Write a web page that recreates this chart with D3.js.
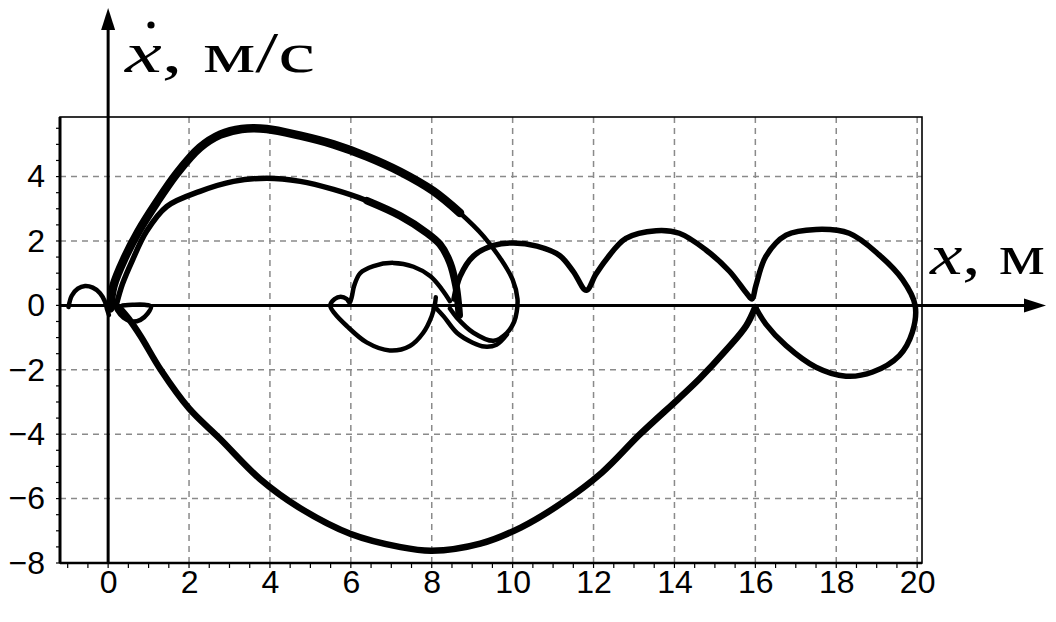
<!DOCTYPE html>
<html>
<head>
<meta charset="utf-8">
<script src="https://d3js.org/d3.v7.min.js"></script>
<style>
  body { margin: 0; background: #fff; }
  svg { display: block; }
</style>
</head>
<body>
<svg></svg>
<script>
const [svgWidth, svgHeight] = [1056, 622];

// tick values
const xTicks = [0, 2, 4, 6, 8, 10, 12, 14, 16, 18, 20];
const yTicks = [-8, -6, -4, -2, 0, 2, 4];

// phase trajectory pieces, [x, dx/dt]
const humpLeft = [[-0.98,-0.05],[-0.9,0.3],[-0.75,0.52],[-0.57,0.6],[-0.38,0.55],[-0.2,0.38],[-0.08,0.12],[-0.02,-0.15],[0.02,-0.3]];
const loopOrigin = [[0.12,0.2],[0.22,-0.15],[0.38,-0.38],[0.58,-0.5],[0.8,-0.45],[0.98,-0.25],[1.06,-0.03],[0.9,0.02],[0.6,0.02],[0.35,0.0]];
const arcOuter = [[0.05,-0.1],[0.13,0.6],[0.42,1.5],[0.75,2.3],[1.2,3.2],[1.7,4.1],[2.27,4.9],[2.77,5.3],[3.3,5.48],[3.92,5.48],[4.75,5.27],[5.57,5.0],[6.4,4.62],[7.22,4.15],[8.04,3.55],[8.7,2.87]];
const arcOuterEnd = [[8.04,3.55],[8.7,2.87],[9.28,2.15],[9.7,1.45],[10.0,0.8],[10.12,0.2],[10.1,-0.2],[10.04,-0.5],[9.86,-0.85],[9.53,-1.1],[9.03,-0.85],[8.62,-0.38],[8.45,-0.1]];
const arcMiddle = [[0.2,0],[0.35,0.65],[0.6,1.4],[0.95,2.3],[1.45,3.07],[2.27,3.54],[3.1,3.85],[3.92,3.95],[4.75,3.85],[5.57,3.6],[6.4,3.25],[7.22,2.78]];
const arcMiddleEnd = [[6.4,3.25],[7.22,2.78],[7.88,2.25],[8.2,1.9],[8.45,1.33],[8.6,0.6],[8.66,0],[8.68,-0.3]];
const loopMid = [[8.45,0.13],[8.25,0.5],[7.96,0.91],[7.55,1.2],[7.05,1.32],[6.56,1.22],[6.23,1.0],[6.08,0.6],[6.02,0.25],[5.97,0.08],[5.9,0.2],[5.75,0.27],[5.6,0.2],[5.49,0],[5.6,-0.25],[5.9,-0.64],[6.39,-1.15],[6.96,-1.4],[7.46,-1.26],[7.79,-0.85],[8.0,-0.33],[8.08,0.05],[8.1,0.25]];
const lowerOuter = [[8.08,-0.05],[8.3,-0.35],[8.62,-0.85],[9.0,-1.15],[9.3,-1.28],[9.6,-1.22],[9.86,-0.9]];
const rightChain = [[8.55,0.2],[8.7,0.9],[9.03,1.53],[9.53,1.86],[10.02,1.94],[10.6,1.84],[11.16,1.55],[11.5,1.05],[11.82,0.47],[12.05,0.95],[12.31,1.42],[12.8,2.08],[13.55,2.32],[14.12,2.24],[14.78,1.72],[15.36,1.06],[15.8,0.35],[15.92,0.2],[16.01,0.6],[16.26,1.52],[16.76,2.18],[17.5,2.36],[18.32,2.24],[19.06,1.57],[19.64,0.8],[19.95,0],[19.88,-0.84],[19.56,-1.56],[18.9,-2.07],[18.24,-2.2],[17.5,-1.92],[16.76,-1.25],[16.26,-0.58],[16.0,-0.05]];
const lowerBig = [[16.0,-0.05],[15.77,-0.64],[15.27,-1.4],[14.62,-2.28],[14.1,-2.9],[13.15,-4.0],[12.2,-5.2],[11.2,-6.15],[10.2,-6.9],[9.2,-7.4],[8.0,-7.62],[7.2,-7.5],[6.0,-7.1],[4.75,-6.3],[3.76,-5.4],[2.77,-4.15],[2.0,-3.2],[1.3,-2.0],[0.8,-0.95],[0.5,-0.4],[0.3,-0.1]];

const svg = d3.select('svg')
  .attr('width', svgWidth)
  .attr('height', svgHeight);

const [fLeft, fRight, fTop, fBottom] = [60, 922, 117, 563];
const x = d3.scaleLinear().domain([-1.19, 20.12]).range([fLeft, fRight]);
const y = d3.scaleLinear().domain([-8, 5.85]).range([fBottom, fTop]);

// grid
const grid = svg.append('g')
  .attr('stroke', '#8a8a8a')
  .attr('stroke-width', 1.5)
  .attr('stroke-dasharray', '6,5');
grid.selectAll('.vg')
  .data(xTicks.filter(d => d !== 0))
  .enter().append('line')
  .attr('x1', d => x(d)).attr('x2', d => x(d))
  .attr('y1', fTop).attr('y2', fBottom);
grid.selectAll('.hg')
  .data(yTicks.filter(d => d !== 0 && d !== -8))
  .enter().append('line')
  .attr('x1', fLeft).attr('x2', fRight)
  .attr('y1', d => y(d)).attr('y2', d => y(d));

// minor ticks
const minorX = d3.range(-1, 20.01, 0.5);
const minorY = d3.range(-8, 5.51, 0.5);
const ticks = svg.append('g').attr('stroke', '#000').attr('stroke-width', 1.2);
ticks.selectAll('.mx')
  .data(minorX)
  .enter().append('line')
  .attr('x1', d => x(d)).attr('x2', d => x(d))
  .attr('y1', fBottom).attr('y2', fBottom + 5);
ticks.selectAll('.my')
  .data(minorY)
  .enter().append('line')
  .attr('x1', fLeft - 4).attr('x2', fLeft)
  .attr('y1', d => y(d)).attr('y2', d => y(d));

// frame
svg.append('rect')
  .attr('x', fLeft).attr('y', fTop)
  .attr('width', fRight - fLeft).attr('height', fBottom - fTop)
  .attr('fill', 'none')
  .attr('stroke', '#000')
  .attr('stroke-width', 1.6);
svg.append('line')
  .attr('x1', fLeft).attr('x2', fLeft)
  .attr('y1', fTop).attr('y2', fBottom)
  .attr('stroke', '#000').attr('stroke-width', 3);
svg.append('line')
  .attr('x1', fLeft).attr('x2', fRight)
  .attr('y1', fBottom).attr('y2', fBottom)
  .attr('stroke', '#000').attr('stroke-width', 2.4);

// tick labels
const xAxis = d3.axisBottom(x).tickValues(xTicks).tickSize(0).tickPadding(7).tickFormat(d3.format('d'));
svg.append('g')
  .attr('transform', `translate(0, ${fBottom})`)
  .call(xAxis)
  .call(g => g.select('.domain').remove())
  .selectAll('text')
  .attr('font-family', 'Liberation Sans, Arial, sans-serif')
  .attr('font-size', 32)
  .attr('fill', '#000');
const yAxis = d3.axisLeft(y).tickValues(yTicks).tickSize(0).tickPadding(15).tickFormat(d3.format('d'));
svg.append('g')
  .attr('transform', `translate(${fLeft}, 0)`)
  .call(yAxis)
  .call(g => g.select('.domain').remove())
  .selectAll('text')
  .attr('font-family', 'Liberation Sans, Arial, sans-serif')
  .attr('font-size', 32)
  .attr('fill', '#000');

// axes with arrows
const axes = svg.append('g').attr('stroke', '#000').attr('stroke-width', 3);
axes.append('line')
  .attr('x1', fLeft).attr('x2', 1030)
  .attr('y1', y(0)).attr('y2', y(0));
axes.append('line')
  .attr('x1', x(0)).attr('x2', x(0))
  .attr('y1', fBottom).attr('y2', 18);
svg.append('path')
  .attr('d', `M1046,${y(0)} L1024,${y(0) - 7} L1024,${y(0) + 7} Z`)
  .attr('fill', '#000');
svg.append('path')
  .attr('d', `M${x(0)},8 L${x(0) - 7},30 L${x(0) + 7},30 Z`)
  .attr('fill', '#000');

// trajectory
const line = d3.line()
  .x(d => x(d[0]))
  .y(d => y(d[1]))
  .curve(d3.curveCatmullRom.alpha(0.5));
const pieces = [
  { data: humpLeft, w: 4.5 },
  { data: loopOrigin, w: 4.5 },
  { data: arcMiddle, w: 5.5 },
  { data: arcMiddleEnd, w: 7.5 },
  { data: arcOuter, w: 8.5 },
  { data: arcOuterEnd, w: 4.5 },
  { data: loopMid, w: 4.5 },
  { data: lowerOuter, w: 4.5 },
  { data: rightChain, w: 5.5 },
  { data: lowerBig, w: 6.5 }
];
svg.append('g')
  .selectAll('path')
  .data(pieces)
  .enter().append('path')
  .attr('d', d => line(d.data))
  .attr('fill', 'none')
  .attr('stroke', '#000')
  .attr('stroke-width', d => d.w)
  .attr('stroke-linecap', 'round')
  .attr('stroke-linejoin', 'round');

// axis titles
const serif = 'Liberation Serif, Times New Roman, serif';
const title = svg.append('text')
  .attr('x', 125)
  .attr('y', 72)
  .attr('font-family', serif)
  .attr('font-size', 56)
  .attr('textLength', 190)
  .attr('lengthAdjust', 'spacingAndGlyphs')
  .attr('fill', '#000');
title.append('tspan').attr('font-style', 'italic').text('x');
title.append('tspan').text(', м/с');
// dot over x
svg.append('circle')
  .attr('cx', 151)
  .attr('cy', 25)
  .attr('r', 3.6)
  .attr('fill', '#000');

const xTitle = svg.append('text')
  .attr('x', 930)
  .attr('y', 274)
  .attr('font-family', serif)
  .attr('font-size', 58)
  .attr('textLength', 115)
  .attr('lengthAdjust', 'spacingAndGlyphs')
  .attr('fill', '#000');
xTitle.append('tspan').attr('font-style', 'italic').text('x');
xTitle.append('tspan').text(', м');
</script>
</body>
</html>
